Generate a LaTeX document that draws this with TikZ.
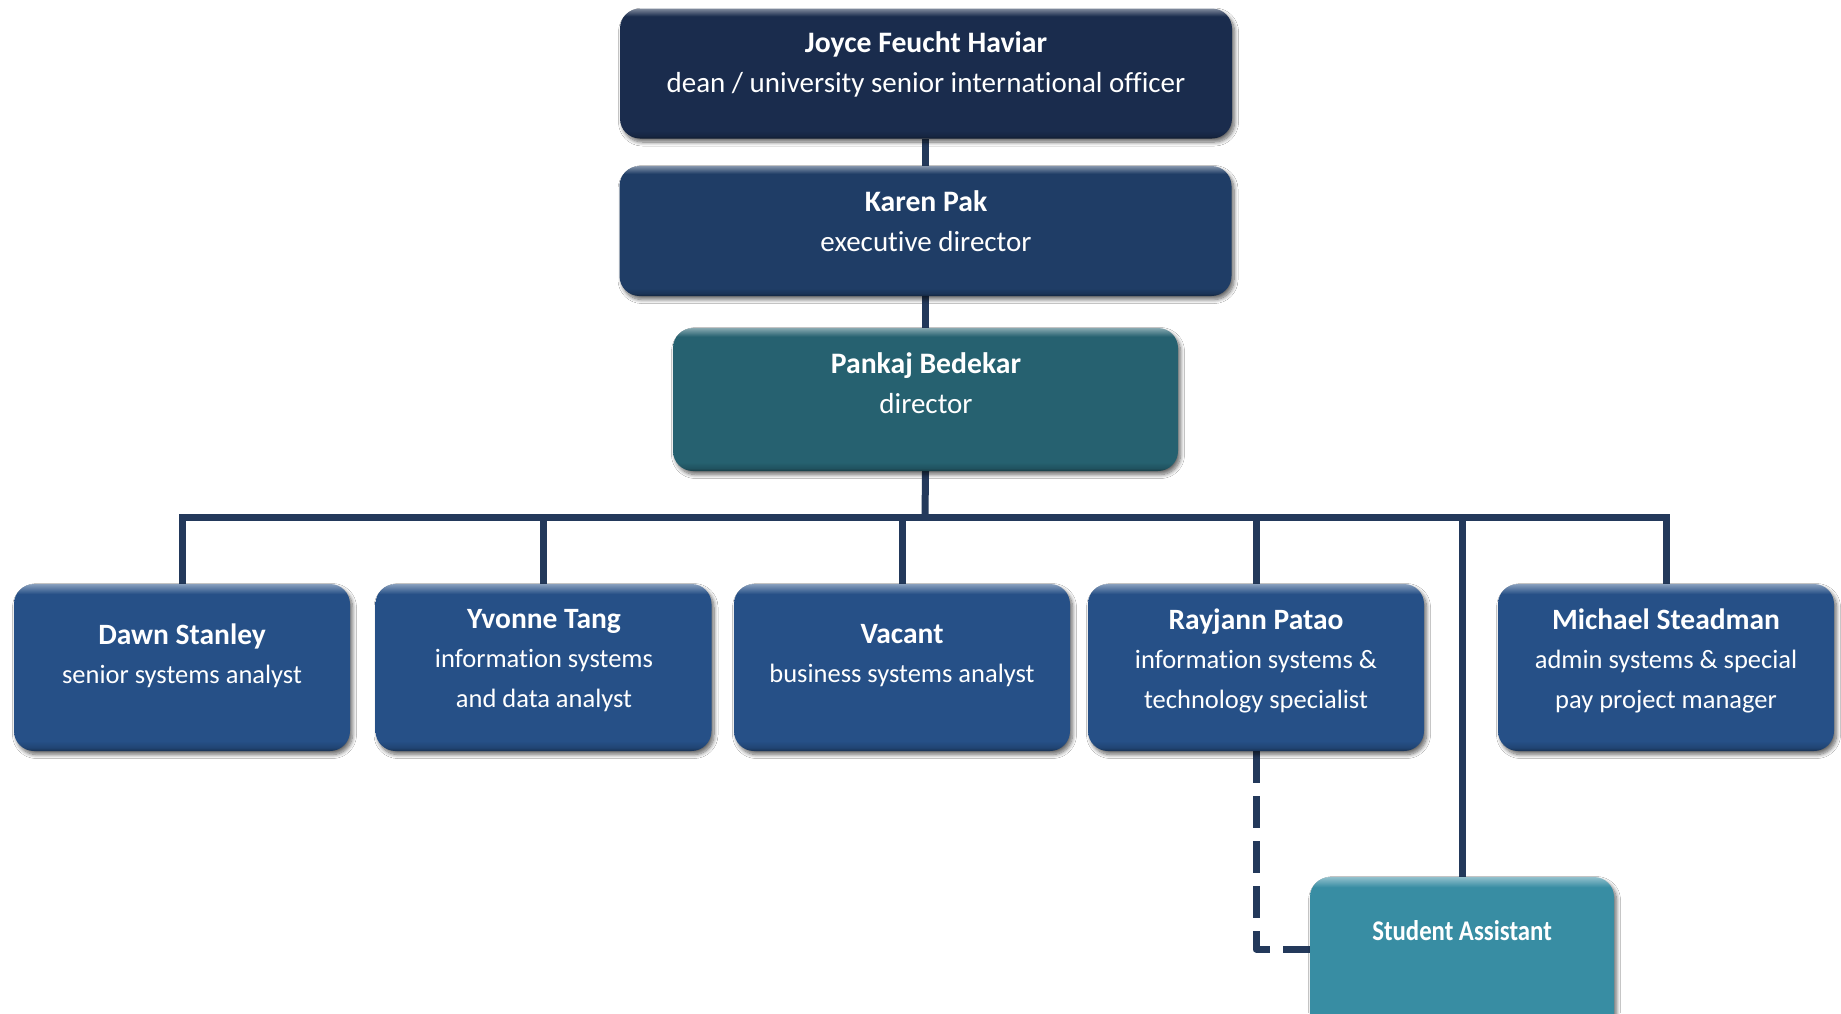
\documentclass[tikz,border=0pt]{standalone}
\usepackage{graphicx}
\usepackage{fontspec}
\setmainfont{Carlito}[Ligatures=NoCommon]
\usetikzlibrary{shadows.blur}

\definecolor{lineblue}{RGB}{35,57,91}
\definecolor{deanblue}{RGB}{26,44,77}
\definecolor{execblue}{RGB}{31,61,102}
\definecolor{dirteal}{RGB}{38,97,112}
\definecolor{staffblue}{RGB}{38,80,135}
\definecolor{assistteal}{RGB}{56,141,163}
\colorlet{boxcol}{staffblue}

% person names in bold, a little larger than the titles
\newcommand{\pname}[2][29.7]{{\fontsize{#1}{40}\selectfont\bfseries #2}}

% flat fill with a light rim on top and a darker rim at the bottom
\pgfdeclareverticalshading[boxcol]{bevel}{100bp}{%
  color(0bp)=(boxcol!60!black); color(25bp)=(boxcol!60!black);
  color(26bp)=(boxcol!85!black); color(28bp)=(boxcol); color(72bp)=(boxcol);
  color(75bp)=(boxcol!55!white); color(100bp)=(boxcol!55!white)}

\tikzset{
  card/.style={rounded corners=20pt, inner sep=0pt,
    /utils/exec={\colorlet{boxcol}{#1}}, shade, shading=bevel,
    blur shadow={shadow xshift=2.5pt, shadow yshift=-3.5pt,
      shadow blur radius=4pt, shadow blur steps=8, shadow opacity=60}},
  big/.style={minimum width=612pt, minimum height=130pt},
  staff/.style={minimum width=336pt, minimum height=167pt},
  lbl/.style={text=white, align=center, inner sep=0pt,
    font=\fontsize{29}{40}\selectfont},
  lblsm/.style={text=white, align=center, inner sep=0pt,
    font=\fontsize{26.5}{39.5}\selectfont},
  conn/.style={draw=lineblue, line width=7pt},
  dotted link/.style={draw=lineblue, line width=7pt, dash pattern=on 32pt off 13pt,
    line join=round},
}

\begin{document}
\begin{tikzpicture}[x=1pt, y=-1pt]
\useasboundingbox[fill=white] (0,0) rectangle (1841,1013);

% ---- reporting lines, drawn first so the boxes sit on top
\coordinate (bus) at (925,517);
\coordinate (jfh-s) at (925.5,139);
\coordinate (kp-n) at (925.5,167);
\coordinate (kp-s) at (925.5,295);
\coordinate (pb-n) at (925.5,328);
\coordinate (pb-s) at (925.5,471);
\coordinate (ds-n) at (182,584);
\coordinate (yt-n) at (543.5,584);
\coordinate (vc-n) at (902,584);
\coordinate (rp-n) at (1256,584);
\coordinate (rp-s) at (1256,751);
\coordinate (ms-n) at (1666,584);
\coordinate (sa-n) at (1462,877);
\coordinate (sa-w) at (1310,949);

\draw[conn] (jfh-s) -- (kp-n);
\draw[conn] (kp-s) -- (pb-n);
\draw[conn] (pb-s) -- (bus);
\draw[conn, line cap=rect] (ds-n) -- (ds-n |- bus) -- (ms-n |- bus) -- (ms-n);
\draw[conn] (yt-n) -- (yt-n |- bus);
\draw[conn] (vc-n) -- (vc-n |- bus);
\draw[conn] (rp-n) -- (rp-n |- bus);
\draw[conn] (sa-n) -- (sa-n |- bus);
\draw[dotted link] (rp-s) |- (sa-w);

% ---- boxes
\node[card=deanblue, big] (jfh) at (926,73.5) {};
\node[card=execblue, big] (kp) at (925.5,231) {};
\node[card=dirteal, minimum width=505pt, minimum height=143pt] (pb) at (925.5,399.5) {};

\node[card=staffblue, staff] (ds) at (182,667.5) {};
\node[card=staffblue, staff] (yt) at (543.5,667.5) {};
\node[card=staffblue, staff] (vc) at (902,667.5) {};
\node[card=staffblue, staff] (rp) at (1256,667.5) {};
\node[card=staffblue, staff] (ms) at (1666,667.5) {};

\node[card=assistteal, minimum width=304pt, minimum height=170pt] (sa) at (1462,962) {};

% ---- texts
\node[lbl] (jfh-t) at (926,64.5) {\pname{Joyce Feucht Haviar}\\dean / university senior international officer};
\node[lbl] (kp-t) at (926,221.5) {\pname{Karen Pak}\\executive director};
\node[lbl] (pb-t) at (926,383) {\pname{Pankaj Bedekar}\\director};

\node[lblsm] (ds-t) at (182,656) {\pname[29.5]{Dawn Stanley}\\senior systems analyst};
\node[lblsm] (yt-t) at (544,660.5) {\pname[29.5]{Yvonne Tang}\\information systems\\and data analyst};
\node[lblsm] (vc-t) at (902,655.5) {\pname[29.5]{Vacant}\\business systems analyst};
\node[lblsm] (rp-t) at (1256,660.5) {\pname[29.5]{Rayjann Patao}\\information systems \&\\technology specialist};
\node[lblsm] (ms-t) at (1666,660.5) {\pname[29.5]{Michael Steadman}\\admin systems \& special\\pay project manager};

\node[lblsm] (sa-t) at (1462,931) {\scalebox{0.87}[1]{\pname[28.5]{Student Assistant}}};
\end{tikzpicture}
\end{document}
